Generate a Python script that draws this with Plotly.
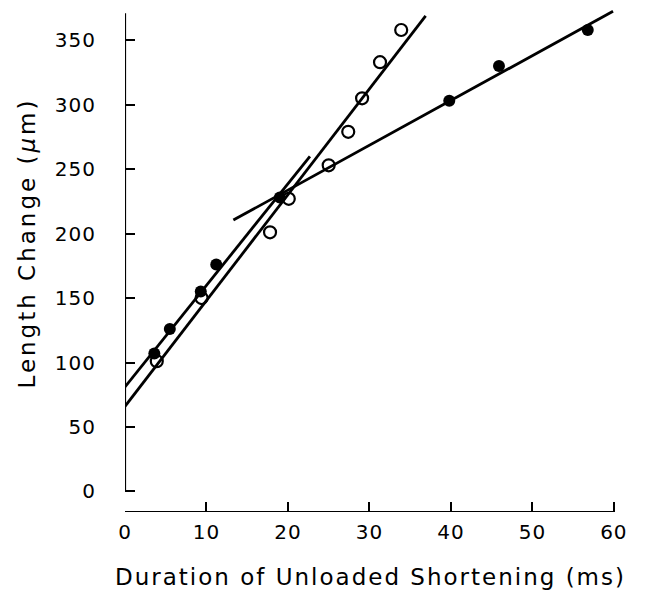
import plotly.graph_objects as go

# Filled circles
filled_x = [3.6, 5.5, 9.3, 11.2, 19.0, 39.8, 45.9, 56.8]
filled_y = [107, 126, 155, 176, 228, 303, 330, 358]
# Open circles
open_x = [3.9, 9.4, 17.8, 20.1, 25.0, 27.4, 29.1, 31.3, 33.9]
open_y = [101, 150, 201, 227, 253, 279, 305, 333, 358]

# Fitted lines (endpoints)
fit_filled_early_x = [0, 22.7]
fit_filled_early_y = [81, 260]
fit_filled_late_x = [13.3, 59.9]
fit_filled_late_y = [210.5, 372.5]
fit_open_x = [0, 36.9]
fit_open_y = [66, 369]

x_ticks = [0, 10, 20, 30, 40, 50, 60]
y_ticks = [0, 50, 100, 150, 200, 250, 300, 350]

x_title = "Duration of Unloaded Shortening (ms)"
y_title = "Length Change (<i>μ</i>m)"

FONT = "DejaVu Sans"

fig = go.Figure()
for lx, ly in [(fit_filled_early_x, fit_filled_early_y),
               (fit_filled_late_x, fit_filled_late_y),
               (fit_open_x, fit_open_y)]:
    fig.add_trace(go.Scatter(x=lx, y=ly, mode="lines",
                             line=dict(color="black", width=2.8),
                             showlegend=False, hoverinfo="skip"))

fig.add_trace(go.Scatter(x=open_x, y=open_y, mode="markers",
                         marker=dict(symbol="circle-open", size=12, color="black",
                                     line=dict(width=2.2, color="black")),
                         showlegend=False))
fig.add_trace(go.Scatter(x=filled_x, y=filled_y, mode="markers",
                         marker=dict(symbol="circle", size=12, color="black"),
                         showlegend=False))

# detached axis lines
fig.add_shape(type="line", xref="x", yref="y", x0=x_ticks[0], x1=x_ticks[-1],
              y0=-16, y1=-16, line=dict(color="black", width=2.2))
fig.add_shape(type="line", xref="x", yref="y", x0=0, x1=0,
              y0=y_ticks[0], y1=371, line=dict(color="black", width=2.2))

fig.add_annotation(text=x_title, xref="paper", yref="paper", x=0.494, y=-0.129,
                   xanchor="center", yanchor="middle", showarrow=False,
                   font=dict(size=23))
fig.add_annotation(text=y_title, xref="paper", yref="paper", x=-0.198, y=0.536,
                   xanchor="center", yanchor="middle", showarrow=False,
                   textangle=-90, font=dict(size=23))

fig.update_layout(
    width=669, height=590,
    margin=dict(l=125, r=47, t=10, b=78),
    paper_bgcolor="white", plot_bgcolor="white",
    font=dict(family=FONT, color="black", size=20),
    xaxis=dict(range=[0, 61], tickvals=x_ticks, ticks="inside", ticklen=10,
               tickwidth=2.2, tickcolor="black", showgrid=False, zeroline=False,
               showline=False, ticklabelstandoff=6, automargin=False),
    yaxis=dict(range=[-16, 373.5], tickvals=y_ticks, ticks="inside", ticklen=10,
               tickwidth=2.2, tickcolor="black", showgrid=False, zeroline=False,
               showline=False, ticklabelstandoff=28, automargin=False),
)

post = """
document.body.style.margin='0';
var anns = document.querySelectorAll('.annotation-text');
if (anns.length > 0) anns[0].style.letterSpacing='2px';
if (anns.length > 1) anns[1].style.letterSpacing='3px';
document.querySelectorAll('.xtick text, .ytick text').forEach(function(e){e.style.letterSpacing='1px';});
"""

fig.write_html("out.html", post_script=post, config={"displayModeBar": False})
